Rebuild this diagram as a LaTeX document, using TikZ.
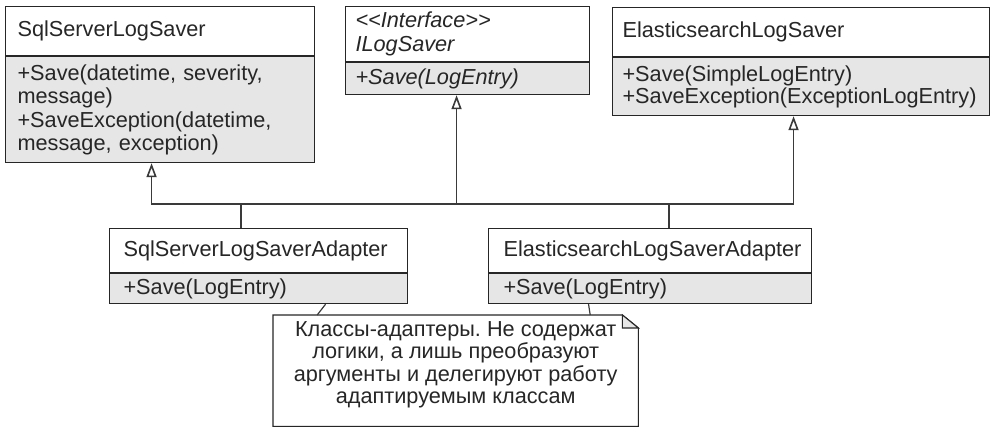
\documentclass[tikz,border=0pt]{standalone}
\usepackage{fontspec}
\setmainfont{Liberation Sans}
\usetikzlibrary{arrows.meta}
\definecolor{ink}{HTML}{262626}
\definecolor{bodyfill}{HTML}{E6E6E6}
\definecolor{wirec}{HTML}{3A3A3A}
\frenchspacing
\begin{document}
\frenchspacing
\begin{tikzpicture}[x=1pt,y=1pt,
  cls/.style={draw=ink, line width=1.1pt, anchor=north west, align=left,
    font=\fontsize{21.7}{23.5}\selectfont, text=ink, inner ysep=0pt},
  hdr/.style={cls, fill=white},
  bdy/.style={cls, fill=bodyfill},
  wire/.style={draw=wirec, line width=1.2pt},
  inh/.style={wire, -{Triangle[open, length=14pt, width=10pt, line width=1.6pt, fill=white]}},
  notetext/.style={align=center, font=\fontsize{21.7}{22.4}\selectfont, text=ink, inner sep=0pt}
]
\useasboundingbox (0,0) rectangle (991,-428);

% SqlServerLogSaver
\node[hdr, inner xsep=12pt, text width=285pt, minimum height=49pt] (sqlH) at (5,-6) {SqlServerLogSaver};
\node[bdy, inner xsep=12pt, text width=285pt, minimum height=106pt] (sqlB) at (sqlH.south west)
  {+Save(datetime, severity,\\message)\\+SaveException(datetime,\\message, exception)};

% ILogSaver
\node[hdr, inner xsep=10pt, text width=224pt, minimum height=55pt, font=\fontsize{21.7}{24}\selectfont\itshape] (ilogH) at (345,-6)
  {<\kern0pt<Interface>\kern0pt>\\ILogSaver};
\node[bdy, inner xsep=10pt, text width=224pt, minimum height=32pt, font=\fontsize{21.7}{23.5}\selectfont\itshape] (ilogB) at (ilogH.south west)
  {+Save(LogEntry)};

% ElasticsearchLogSaver
\node[hdr, inner xsep=10pt, text width=357pt, minimum height=49pt] (elaH) at (612,-7) {ElasticsearchLogSaver};
\node[bdy, inner xsep=10pt, text width=357pt, minimum height=58pt, font=\fontsize{21.7}{21.5}\selectfont] (elaB) at (elaH.south west)
  {+Save(SimpleLogEntry)\\+SaveException(ExceptionLogEntry)};

% Adapters
\node[hdr, inner xsep=14pt, text width=270pt, minimum height=44pt] (sqlAH) at (109,-228) {SqlServerLogSaverAdapter};
\node[bdy, inner xsep=14pt, text width=270pt, minimum height=30pt] (sqlAB) at (sqlAH.south west) {+Save(LogEntry)};

\node[hdr, inner xsep=15pt, text width=293pt, minimum height=44pt] (elaAH) at (488,-228) {ElasticsearchLogSaverAdapter};
\node[bdy, inner xsep=15pt, text width=293pt, minimum height=30pt] (elaAB) at (elaAH.south west) {+Save(LogEntry)};

% Note
\node[anchor=north west, minimum width=365pt, minimum height=111pt, inner sep=0pt] (note) at (273,-315) {};
\draw[draw=ink, line width=1.1pt, fill=white]
  (note.north west) -- ([xshift=-16pt]note.north east) -- ([yshift=-13pt]note.north east)
  -- (note.south east) -- (note.south west) -- cycle;
\draw[draw=ink, line width=1.1pt, fill=bodyfill]
  ([xshift=-16pt]note.north east) -- ([xshift=-16pt,yshift=-13pt]note.north east)
  -- ([yshift=-13pt]note.north east) -- cycle;
\node[notetext] (notetxt) at ([yshift=6pt]note.center)
  {Классы-адаптеры. Не содержат\\логики, а лишь преобразуют\\аргументы и делегируют работу\\адаптируемым классам};

% Connectors
\coordinate (ja) at (241,-204);
\coordinate (jb) at (669,-204);
\draw[wire] (ja |- sqlAH.north) -- (ja);
\draw[wire] (jb |- elaAH.north) -- (jb);
\draw[inh] (jb) -- (ja) -| ([xshift=-8.5pt]sqlB.south);
\draw[inh] ([xshift=-11pt]ilogB.south |- ja) -- ([xshift=-11pt]ilogB.south);
\draw[inh] (jb) -| ([xshift=-7.5pt]elaB.south);

\draw[wire] ([xshift=67pt]sqlAB.south) -- ([xshift=-138.5pt]note.north);
\draw[wire] ([xshift=-61.5pt]elaAB.south) -- ([xshift=134.5pt]note.north);
\end{tikzpicture}
\end{document}
